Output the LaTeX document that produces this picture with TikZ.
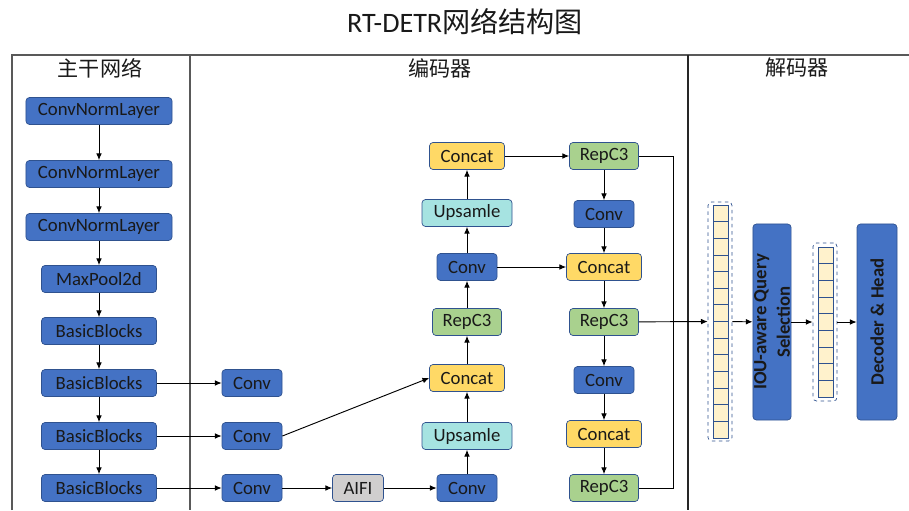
\documentclass[tikz,border=0pt]{standalone}
\usepackage{fontspec}
\setmainfont{Carlito}
\newfontfamily\cjk{Noto Sans CJK SC}
\usetikzlibrary{arrows.meta}
\definecolor{blk}{HTML}{4472C4}
\definecolor{blkline}{HTML}{2F528F}
\definecolor{ylw}{HTML}{FFD966}
\definecolor{grn}{HTML}{A9D18E}
\definecolor{cyn}{HTML}{A6E3E1}
\definecolor{gry}{HTML}{D0CECE}
\definecolor{tok}{HTML}{FFF2CC}
\definecolor{frm}{HTML}{595959}
\begin{document}
\begin{tikzpicture}[x=0.03cm,y=-0.03cm,
  every node/.style={font=\fontsize{16}{19}\selectfont,text=black!90},
  box/.style={draw=blkline,line width=0.6pt,rounded corners=3pt,minimum height=0.81cm,inner sep=1pt},
  bb/.style={box,fill=blk},
  cc/.style={box,fill=ylw,minimum width=2.25cm},
  rp/.style={box,fill=grn,minimum width=2.07cm},
  up/.style={box,fill=cyn,minimum width=2.7cm},
  cv/.style={bb,minimum width=1.8cm},
  arr/.style={-{Latex[length=2mm,width=1.7mm]},line width=0.8pt},
  ln/.style={line width=0.8pt},
  cell/.style={draw=blkline,fill=tok,line width=0.7pt},
  tokcol/.style={draw=blkline,dashed,rounded corners=3pt,line width=0.6pt,minimum width=0.72cm,inner sep=0pt}]
\useasboundingbox (0,0) rectangle (909,510);
% title and frame
\node[font=\fontsize{24}{28}\selectfont] (title) at (465,22) {RT-DETR{\cjk 网络结构图}};
\draw[frm,line width=1pt] (12,510) -- (12,55) -- (909,55);
\draw[frm,line width=1pt] (190,55) -- (190,510);
\draw[black!85,line width=1pt] (688,55) -- (688,510);
\node[font=\cjk\fontsize{18}{22}\selectfont] (hbb) at (100,68) {主干网络};
\node[font=\cjk\fontsize{18}{22}\selectfont] (henc) at (440,68) {编码器};
\node[font=\cjk\fontsize{18}{22}\selectfont] (hdec) at (797,68) {解码器};
% backbone
\node[bb,minimum width=4.38cm] (c1) at (99,111) {ConvNormLayer};
\node[bb,minimum width=4.38cm] (c2) at (99,174) {ConvNormLayer};
\node[bb,minimum width=4.38cm] (c3) at (99,227) {ConvNormLayer};
\node[bb,minimum width=3.45cm] (mp) at (99,279) {MaxPool2d};
\node[bb,minimum width=3.45cm] (b1) at (99,331) {BasicBlocks};
\node[bb,minimum width=3.45cm] (b2) at (99,383) {BasicBlocks};
\node[bb,minimum width=3.45cm] (b3) at (99,436) {BasicBlocks};
\node[bb,minimum width=3.45cm] (b4) at (99,488) {BasicBlocks};
\foreach \a/\b in {c1/c2,c2/c3,c3/mp,mp/b1,b1/b2,b2/b3,b3/b4}
  \draw[arr] (\a) -- (\b);
% encoder
\node[cv] (cva) at (252,383) {Conv};
\node[cv] (cvb) at (252,436) {Conv};
\node[cv] (cvc) at (252,488) {Conv};
\node[box,fill=gry,minimum width=1.53cm] (aifi) at (358,488) {AIFI};
\node[cv] (cvd) at (467,488) {Conv};
\node[up] (up1) at (467,436) {Upsamle};
\node[cc] (cat1) at (467,378) {Concat};
\node[rp] (rp1) at (467,322) {RepC3};
\node[cv] (cve) at (467,267) {Conv};
\node[up] (up2) at (467,213) {Upsamle};
\node[cc] (cat2) at (467,156) {Concat};
\node[rp] (rp2) at (604,156) {RepC3};
\node[cv] (cvf) at (604,214) {Conv};
\node[cc] (cat3) at (604,267) {Concat};
\node[rp] (rp3) at (604,322) {RepC3};
\node[cv] (cvg) at (604,380) {Conv};
\node[cc] (cat4) at (604,434) {Concat};
\node[rp] (rp4) at (604,488) {RepC3};
\draw[arr] (b2) -- (cva);
\draw[arr] (b3) -- (cvb);
\draw[arr] (b4) -- (cvc);
\draw[arr] (cvc) -- (aifi);
\draw[arr] (aifi) -- (cvd);
\draw[arr] (cvb.east) -- (cat1.west);
\foreach \a/\b in {cvd/up1,up1/cat1,cat1/rp1,rp1/cve,cve/up2,up2/cat2,
  rp2/cvf,cvf/cat3,cat3/rp3,rp3/cvg,cvg/cat4,cat4/rp4}
  \draw[arr] (\a) -- (\b);
\draw[arr] (cat2) -- (rp2);
\draw[arr] (cve) -- (cat3);
\draw[ln] (rp2.east) -- ++(35,0) |- (rp4.east);
% decoder
\node[tokcol,minimum height=7.17cm] (tq1) at (720,321.5) {};
\foreach \i in {0,...,13}
  \draw[cell] (713,{205+\i*16.64}) rectangle ++(15,16.64);
\node[bb,rotate=90,minimum width=5.88cm,minimum height=1.14cm,align=center,
  font=\bfseries\fontsize{16}{20}\selectfont] (iou) at (772,322) {IOU-aware Query\\Selection};
\node[tokcol,minimum height=4.74cm] (tq2) at (825,322) {};
\foreach \i in {0,...,8}
  \draw[cell] (818,{247+\i*16.67}) rectangle ++(15,16.67);
\node[bb,rotate=90,minimum width=5.88cm,minimum height=1.2cm,
  font=\bfseries\fontsize{16}{20}\selectfont] (dec) at (877,322) {Decoder \& Head};
\draw[arr] (rp3) -- (tq1);
\draw[arr] (tq1) -- (iou);
\draw[arr] (iou) -- (tq2);
\draw[arr] (tq2) -- (dec);
\end{tikzpicture}
\end{document}
